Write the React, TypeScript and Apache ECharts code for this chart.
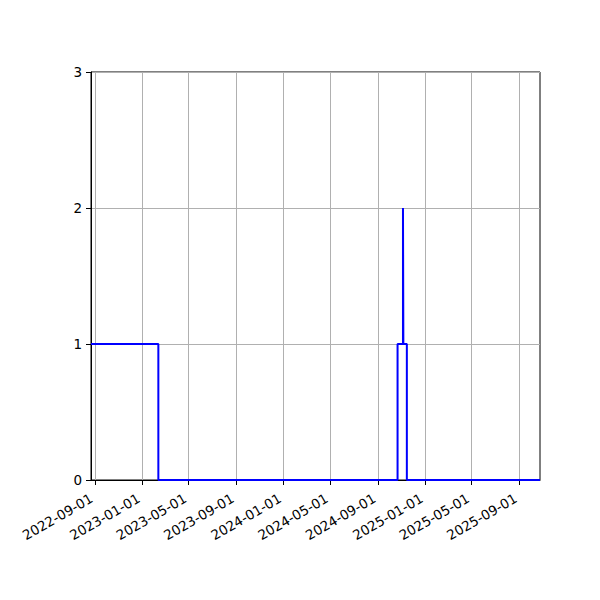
import React, { useEffect, useRef } from "react";
import * as echarts from "echarts";

// Step series: value holds from each date until the next one
const changeDates = [
  "2022-08-22",
  "2023-02-12",
  "2024-10-22",
  "2024-11-05",
  "2024-11-06",
  "2024-11-15",
  "2025-10-25",
];
const counts = [1, 0, 1, 2, 1, 0, 0];

const xTickDates = [
  "2022-09-01",
  "2023-01-01",
  "2023-05-01",
  "2023-09-01",
  "2024-01-01",
  "2024-05-01",
  "2024-09-01",
  "2025-01-01",
  "2025-05-01",
  "2025-09-01",
];
const yTicks = [0, 1, 2, 3];
const xStart = "2022-08-22";
const xEnd = "2025-10-25";

const ts = (d: string) => {
  const [y, m, dd] = d.split("-").map(Number);
  return Date.UTC(y, m - 1, dd);
};
const pad = (n: number) => (n < 10 ? "0" + n : "" + n);
const fmt = (v: number) => {
  const d = new Date(v);
  return `${d.getUTCFullYear()}-${pad(d.getUTCMonth() + 1)}-${pad(d.getUTCDate())}`;
};

export default function App() {
  const ref = useRef<HTMLDivElement>(null);
  useEffect(() => {
    document.body.style.margin = "0";
    const chart = echarts.init(ref.current!, null, { renderer: "svg" });
    const tickVals = xTickDates.map(ts);
    const font = "DejaVu Sans";
    chart.setOption({
      animation: false,
      backgroundColor: "#ffffff",
      grid: {
        left: 91,
        right: 60,
        top: 72,
        bottom: 120,
        show: true,
        borderColor: "#000000",
        borderWidth: 1,
        backgroundColor: "transparent",
      },
      xAxis: {
        type: "value",
        min: ts(xStart),
        max: ts(xEnd),
        scale: true,
        axisLine: { show: true, onZero: false, lineStyle: { color: "#000", width: 1 } },
        axisTick: {
          show: true,
          length: 5,
          inside: false,
          customValues: tickVals,
          lineStyle: { color: "#000", width: 1 },
        },
        axisLabel: {
          customValues: tickVals,
          rotate: 30,
          color: "#000",
          fontSize: 13.5,
          fontFamily: font,
          margin: 15,
          padding: [0, 4, 0, 0],
          formatter: (v: number) => fmt(v),
        },
        splitLine: { show: true, lineStyle: { color: "#b0b0b0", width: 1 } },
      },
      yAxis: {
        type: "value",
        min: yTicks[0],
        max: yTicks[yTicks.length - 1],
        interval: 1,
        axisLine: { show: true, lineStyle: { color: "#000", width: 1 } },
        axisTick: { show: true, length: 5, inside: false, lineStyle: { color: "#000", width: 1 } },
        axisLabel: { color: "#000", fontSize: 13.5, fontFamily: font, margin: 9 },
        splitLine: { show: true, lineStyle: { color: "#b0b0b0", width: 1 } },
      },
      series: [
        {
          type: "line",
          step: "end",
          showSymbol: false,
          symbol: "none",
          data: changeDates.map((d, i) => [ts(d), counts[i]]),
          lineStyle: { color: "#0000ff", width: 2 },
          clip: true,
        },
      ],
    });
    return () => chart.dispose();
  }, []);
  return <div ref={ref} style={{ width: 600, height: 600 }} />;
}
